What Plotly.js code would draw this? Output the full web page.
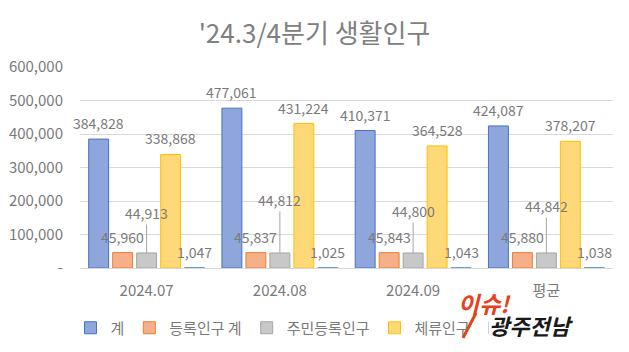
<!DOCTYPE html>
<html>
<head>
<meta charset="utf-8">
<script src="https://cdn.plot.ly/plotly-3.0.1.min.js"></script>
<style>html,body{margin:0;padding:0;background:#fff;}#chart{width:629px;height:352px;}</style>
</head>
<body>
<div id="chart"></div>
<script>
const categories = ['2024.07', '2024.08', '2024.09', '평균'];
const seriesNames = ['계', '등록인구 계', '주민등록인구', '체류인구', '외국인'];
const totalPop = [384828, 477061, 410371, 424087];
const registeredPop = [45960, 45837, 45843, 45880];
const residentPop = [44913, 44812, 44800, 44842];
const stayPop = [338868, 431224, 364528, 378207];
const foreignPop = [1047, 1025, 1043, 1038];
const yTickVals = [0, 100000, 200000, 300000, 400000, 500000, 600000];
const yTickText = ['-', '100,000', '200,000', '300,000', '400,000', '500,000', '600,000'];

const FONT = '"Noto Sans CJK KR", "Noto Sans", sans-serif';
const TXT = '#7a7a7a';
const fills = ['#8fa6dc', '#f5b08a', '#c8c8c8', '#ffd877', '#9dc3e6'];
const lines = ['#4472c4', '#ed7d31', '#a5a5a5', '#ffc000', '#5b9bd5'];
const allSeries = [totalPop, registeredPop, residentPop, stayPop, foreignPop];

const margin = {l: 80, r: 16, t: 67, b: 84};
const W = 629, H = 352;
const plotW = W - margin.l - margin.r;
const bargap = 0.1;
const slot = plotW / categories.length * (1 - bargap) / seriesNames.length;
const leaderOffsets = [-40, -53, -42, -47];

const traces = allSeries.map((vals, i) => ({
  type: 'bar',
  name: seriesNames[i],
  x: categories,
  y: vals,
  marker: {color: fills[i], line: {color: lines[i], width: 1}},
  hoverinfo: 'none'
}));

const annotations = [];
allSeries.forEach((vals, i) => {
  vals.forEach((v, j) => {
    const base = {
      x: j, y: v, xref: 'x', yref: 'y',
      text: v.toLocaleString('en-US'),
      font: {family: FONT, size: 14, color: TXT},
      xshift: (i - 2) * slot
    };
    if (i === 2) {
      Object.assign(base, {showarrow: true, arrowhead: 0, arrowwidth: 1, arrowcolor: '#a6a6a6',
        ax: 0, ay: leaderOffsets[j], standoff: 0});
    } else {
      Object.assign(base, {showarrow: false, yanchor: 'middle', yshift: 16});
    }
    annotations.push(base);
  });
});

// watermark
const ph = H - margin.t - margin.b;
const px = (x) => (x - margin.l) / plotW;
const py = (y) => (H - margin.b - y) / ph;
annotations.push({xref: 'paper', yref: 'paper', x: px(531), y: py(325), xanchor: 'center', yanchor: 'middle',
  showarrow: false, text: '<b><i>광주전남</i></b>', font: {family: FONT, size: 22, color: '#1a1a1a'},
  bgcolor: '#ffffff', borderpad: 0});
annotations.push({xref: 'paper', yref: 'paper', x: px(484), y: py(303), xanchor: 'center', yanchor: 'middle',
  showarrow: false, text: '<b><i>이슈!</i></b>', font: {family: FONT, size: 23, color: '#e8401c'}});

const layout = {
  width: W, height: H,
  margin: margin,
  paper_bgcolor: '#ffffff', plot_bgcolor: '#ffffff',
  barmode: 'group', bargap: bargap, bargroupgap: 0.17,
  title: {text: "'24.3/4분기 생활인구", x: 0.5, xanchor: 'center', y: 1 - 34 / H, yanchor: 'middle',
    font: {family: FONT, size: 26, color: '#808080'}},
  xaxis: {type: 'category', categoryorder: 'array', categoryarray: categories, range: [-0.5, 3.5],
    autorange: false, showgrid: false, showline: true, linecolor: '#d9d9d9', linewidth: 1,
    ticks: '', tickfont: {family: FONT, size: 15, color: TXT}, ticklabelstandoff: 9, fixedrange: true},
  yaxis: {range: [0, 600000], autorange: false, tickvals: yTickVals, ticktext: yTickText, showgrid: true, gridcolor: '#d9d9d9',
    gridwidth: 1, zeroline: false, showline: false, ticks: '',
    tickfont: {family: FONT, size: 15, color: TXT}, ticklabelstandoff: 16, fixedrange: true},
  showlegend: true,
  legend: {orientation: 'h', x: px(316), xanchor: 'center', yref: 'container', y: 1 - 328 / H, yanchor: 'middle',
    font: {family: FONT, size: 15, color: TXT}, itemwidth: 30, bgcolor: 'rgba(0,0,0,0)'},
  annotations: annotations,
  shapes: [{type: 'line', xref: 'paper', yref: 'paper', x0: px(476), y0: py(313), x1: px(463), y1: py(338),
    line: {color: '#e8401c', width: 3}}]
};

Plotly.newPlot('chart', traces, layout, {displayModeBar: false, staticPlot: true});
</script>
</body>
</html>
